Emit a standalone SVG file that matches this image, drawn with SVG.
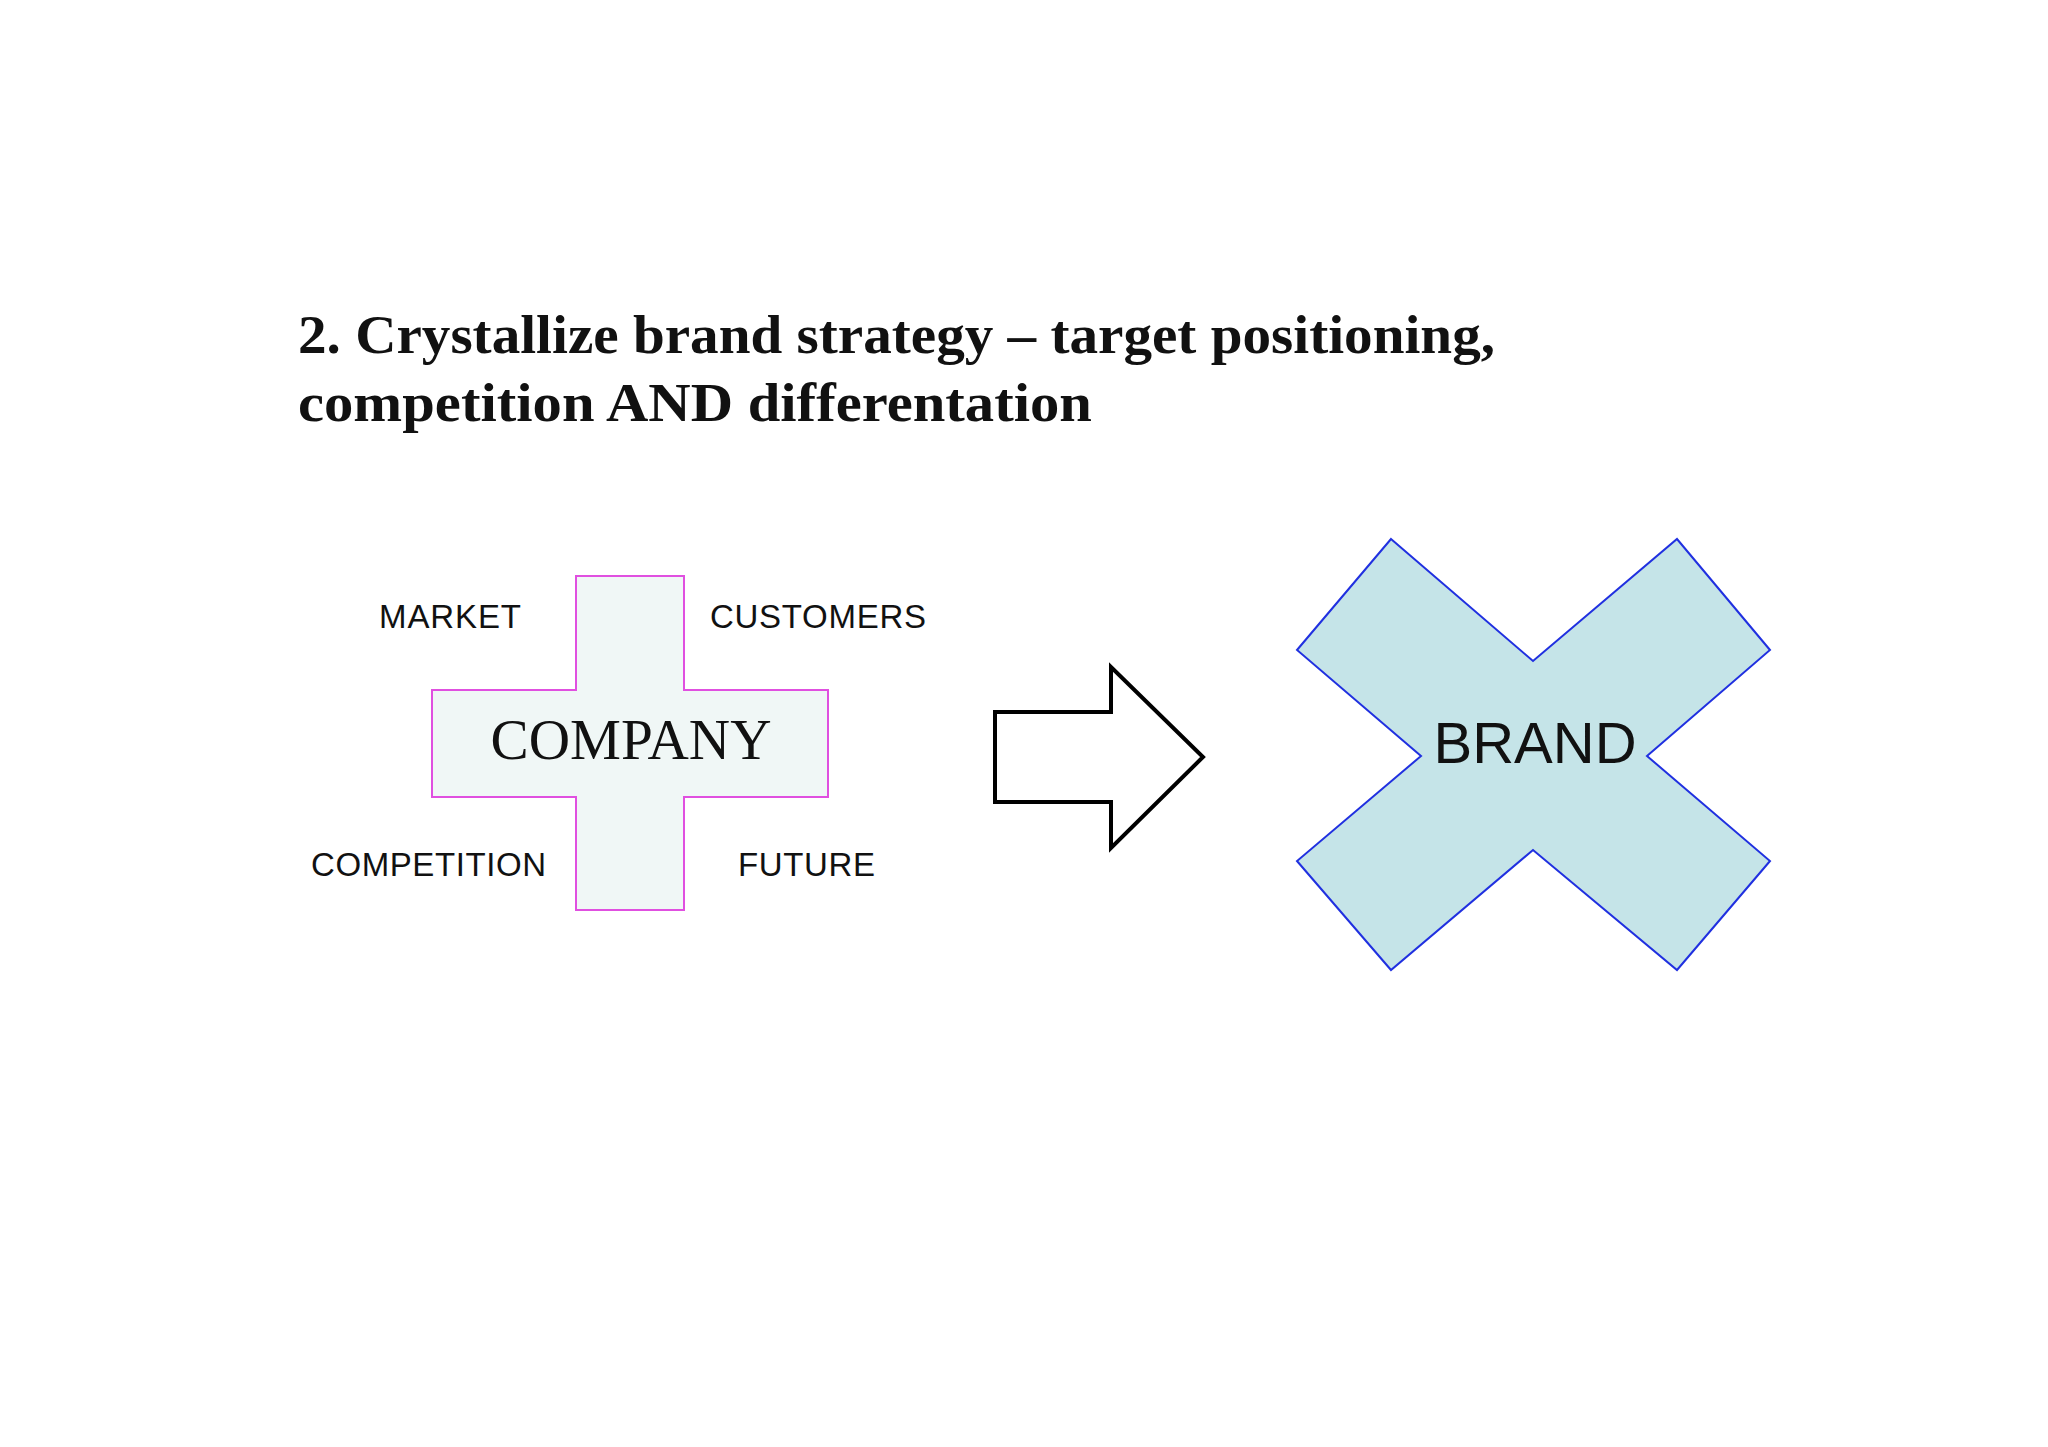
<svg xmlns="http://www.w3.org/2000/svg" width="2048" height="1447" viewBox="0 0 2048 1447">
<style>
.t{font-family:"Liberation Serif",serif;font-weight:bold;font-size:54px;fill:#111}
.l{font-family:"Liberation Sans",Arial,sans-serif;font-size:33px;fill:#111}
</style>
<rect width="2048" height="1447" fill="#fff"/>
<text class="t" x="298" y="353" textLength="1197" lengthAdjust="spacingAndGlyphs">2. Crystallize brand strategy – target positioning,</text>
<text class="t" x="298" y="421" textLength="794" lengthAdjust="spacingAndGlyphs">competition AND differentation</text>
<g id="company">
<path d="M576,576H684V690H828V797H684V910H576V797H432V690H576Z" fill="#f0f7f6" stroke="#e050e0" stroke-width="2"/>
<text x="631" y="759" text-anchor="middle" style="font-family:'Liberation Serif',serif;font-size:57px;fill:#111" textLength="281" lengthAdjust="spacingAndGlyphs">COMPANY</text>
</g>
<g id="labels">
<text class="l" x="379" y="628" textLength="142">MARKET</text>
<text class="l" x="710" y="628" textLength="216">CUSTOMERS</text>
<text class="l" x="311" y="876" textLength="235">COMPETITION</text>
<text class="l" x="738" y="876" textLength="137">FUTURE</text>
</g>
<g id="connectors">
<path d="M995,712H1111V667L1203,757L1111,848V802H995Z" fill="#fff" stroke="#000" stroke-width="4"/>
</g>
<g id="brand">
<path d="M1391,539L1533,661L1677,539L1770,650L1647,756L1770,861L1677,970L1533,850L1391,970L1297,861L1421,756L1297,650Z" fill="#c5e4e8" stroke="#2030e0" stroke-width="2"/>
<text x="1535" y="763" text-anchor="middle" style="font-family:'Liberation Sans',Arial,sans-serif;font-size:58px;fill:#111">BRAND</text>
</g>
</svg>
